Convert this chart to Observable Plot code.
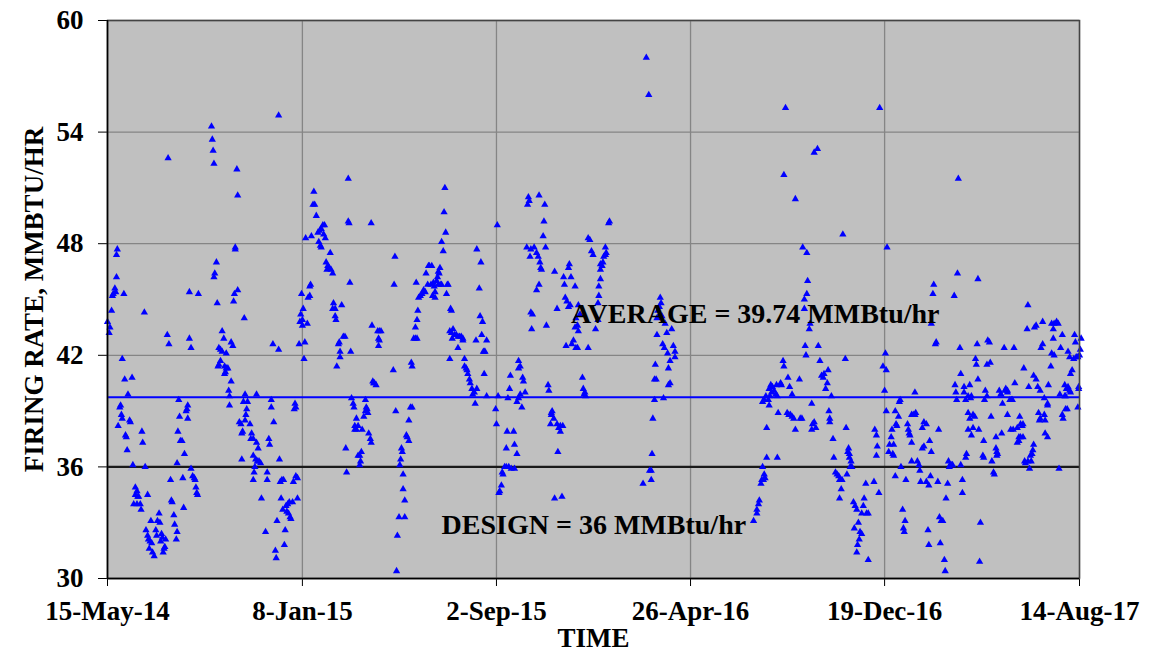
<!DOCTYPE html>
<html><head><meta charset="utf-8">
<script src="https://cdn.jsdelivr.net/npm/d3@7"></script>
<script src="https://cdn.jsdelivr.net/npm/@observablehq/plot@0.6"></script>
<style>html,body{margin:0;padding:0;background:#fff;}</style>
</head><body><div id="chart"></div>
<script>
const startDate = "2014-05-15";
const endDate = "2017-08-14";
const xTickDates = ["2014-05-15","2015-01-08","2015-09-02","2016-04-26","2016-12-19","2017-08-14"];
const xTickLabels = ["15-May-14","8-Jan-15","2-Sep-15","26-Apr-16","19-Dec-16","14-Aug-17"];
const yTicks = [30,36,42,48,54,60];
const averageRate = 39.74;
const designRate = 36;
const averageLabel = "AVERAGE = 39.74 MMBtu/hr";
const designLabel = "DESIGN = 36 MMBtu/hr";
const averageLabelAt = [566, 43.76];   // [days after start, MMBtu/hr]
const designLabelAt = [408, 32.37];
const xTitle = "TIME";
const yTitle = "FIRING RATE, MMBTU/HR";

// observations: [days after 15-May-14, firing rate MMBtu/hr]
const obs2014 = [[0,43.8],[3,43.5],[2,43.2],[5,44.4],[6,45.2],[7,45.3],[9,45.6],[10,45.4],[11,46.2],[11,47.4],[12,47.7],[20,45.3],[18,41.8],[21,40.7],[30,40.8],[25,39.9],[15,39.2],[16,39.3],[17,38.8],[18,38.6],[13,38.2],[27,38.5],[28,38.4],[22,37.7],[23,37.6],[24,36.9],[31,36.1],[46,36.0],[42,37.9],[43,37.3],[45,44.3],[34,34.9],[36,34.7],[34,34.5],[37,34.4],[38,34.4],[32,34.0],[36,34.0],[40,34.0],[41,33.7],[49,34.5],[47,32.6],[49,32.3],[50,32.1],[52,32.0],[54,31.9],[51,31.6],[55,31.4],[57,31.2],[53,33.1],[59,32.6],[60,32.3],[61,33.1],[63,33.5],[64,33.0],[65,32.0],[66,32.4],[67,32.2],[68,31.4],[69,31.6],[71,32.1],[70,31.7],[74,52.6],[73,43.1],[75,42.6],[77,35.3],[78,34.2],[79,34.1],[81,33.4],[82,32.9],[85,32.5],[84,32.1],[85,36.2],[86,37.9],[88,38.7],[89,37.4],[91,37.4],[94,36.7],[87,39.6],[92,35.4],[93,33.8],[96,39.0],[97,39.1],[98,39.3],[98,38.6],[100,45.4],[111,45.3],[100,42.9],[102,42.4],[102,35.9],[104,35.5],[106,35.4],[107,35.3],[108,34.9],[109,34.6],[110,34.5],[127,54.3],[128,53.6],[129,53.0],[130,52.3],[133,47.0],[131,46.4],[130,46.2],[134,44.8],[140,43.3],[142,42.9],[136,42.4],[138,42.3],[140,42.2],[145,42.1],[136,41.5],[135,41.4],[138,41.7],[143,41.4],[145,41.3],[147,41.3],[143,41.0],[144,41.1],[151,40.6],[148,40.1],[149,39.8],[149,39.3],[151,42.7],[153,42.5],[155,45.3],[154,44.9],[159,45.5],[156,47.7],[156,47.8],[158,52.0],[159,50.6],[167,44.0],[161,38.4],[163,38.3],[164,37.8],[165,37.9],[164,36.4],[166,39.5],[168,39.9],[171,39.5],[170,39.1],[169,38.8],[168,38.5],[174,38.3],[176,37.8],[175,37.5],[178,37.5],[182,37.3],[184,37.0],[178,36.6],[181,36.4],[183,36.3],[185,36.3],[187,36.2],[180,36.0],[179,35.7],[178,35.3],[182,39.9],[188,34.3],[193,32.5]];
const obs2015a = [[209,54.9],[202,42.6],[209,42.3],[200,39.6],[200,39.2],[203,38.4],[197,37.5],[198,37.2],[210,36.4],[195,35.7],[195,35.3],[211,35.2],[213,35.3],[215,35.3],[227,35.2],[230,35.5],[232,35.4],[229,39.4],[230,39.2],[228,39.1],[212,34.3],[214,33.7],[218,33.9],[220,34.0],[222,34.1],[226,34.1],[219,33.6],[221,33.5],[223,33.3],[224,33.2],[232,34.3],[207,33.1],[217,32.6],[216,31.8],[205,31.5],[206,31.1],[240,41.8],[234,42.6],[241,42.7],[238,43.6],[235,43.8],[244,43.7],[238,43.9],[236,44.2],[239,44.5],[237,45.3],[245,45.1],[247,45.2],[247,45.7],[248,45.8],[242,48.3],[249,48.4],[252,50.8],[253,50.1],[251,50.1],[255,49.5],[257,48.6],[259,48.7],[261,48.8],[263,49.0],[265,49.0],[264,48.5],[266,48.3],[258,48.1],[260,47.9],[261,47.8],[272,47.5],[267,47.0],[269,46.8],[271,46.7],[268,46.6],[273,46.6],[275,46.4],[296,45.9],[276,44.8],[278,44.5],[275,44.5],[279,43.9],[278,44.1],[286,44.7],[288,43.0],[290,43.0],[283,42.7],[282,42.6],[284,42.2],[284,41.9],[280,41.4],[297,42.2],[294,51.5],[294,49.2],[295,49.1],[322,49.1],[298,39.7],[300,39.4],[301,39.2],[291,37.0],[292,35.7],[304,38.6],[302,38.2],[304,38.0],[302,38.0],[311,38.0],[306,38.2],[315,39.6],[316,39.2],[315,39.0],[318,38.9],[313,38.7],[317,39.1],[319,37.8],[321,37.5],[322,37.3],[310,36.8],[308,36.6],[306,36.6],[309,36.3],[308,36.1],[323,43.6],[330,43.3],[332,43.3],[334,43.3],[331,42.9],[332,42.8],[331,42.5],[324,40.6],[326,40.5],[328,40.4],[325,40.5],[351,47.3],[350,45.8],[349,41.2],[352,39.0],[368,38.5],[365,37.7],[366,37.6],[368,37.4],[359,37.0],[360,36.8],[358,36.4],[357,36.1],[361,35.6],[361,34.8],[363,34.2],[356,33.3],[363,33.3],[354,32.3],[353,30.4],[370,39.2],[372,39.2],[371,41.6],[372,41.4],[374,42.9],[376,42.9],[378,42.9],[376,43.5],[378,43.9],[379,44.4],[377,45.9],[380,45.1],[382,45.2],[384,45.3],[386,45.5],[388,45.4],[389,46.4],[391,45.8],[392,46.8],[393,46.8],[395,45.8]];
const obs2015b = [[396,46.8],[398,45.9],[399,45.7],[400,45.4],[400,45.1],[397,45.2],[402,46.0],[403,46.2],[404,46.5],[405,46.4],[406,46.7],[407,45.8],[404,45.8],[408,45.8],[412,51.0],[411,49.7],[413,48.6],[408,48.1],[410,47.6],[415,45.8],[416,45.8],[414,45.3],[419,44.5],[420,44.4],[418,43.3],[420,43.2],[422,43.4],[424,43.1],[421,42.9],[426,43.1],[428,43.0],[430,43.0],[432,43.0],[434,42.9],[428,42.4],[434,42.8],[418,41.8],[436,41.8],[436,41.4],[438,41.3],[439,41.2],[440,41.0],[442,40.7],[443,40.5],[445,40.2],[446,39.9],[448,40.0],[451,40.2],[449,39.4],[463,39.8],[477,39.8],[451,47.7],[456,47.0],[454,45.6],[455,44.1],[458,43.8],[457,43.1],[450,42.8],[463,42.8],[460,42.2],[459,42.2],[461,42.2],[460,41.0],[476,49.0],[474,39.1],[475,38.3],[488,37.9],[496,37.9],[487,37.0],[497,37.2],[500,36.7],[485,36.0],[487,36.0],[490,36.0],[493,35.9],[497,35.9],[482,35.7],[483,35.6],[481,35.0],[479,34.7],[478,34.6],[492,40.9],[491,40.2],[489,39.7],[500,39.5],[502,39.7],[504,39.9],[506,39.2],[502,41.3],[502,41.7],[504,41.4],[507,40.8],[508,40.6],[510,40.0],[514,50.5],[515,50.3],[513,50.1],[527,50.6],[534,50.1],[533,49.2],[532,48.4],[535,47.8],[512,47.8],[517,47.7],[521,47.8],[516,47.3],[524,47.5],[526,47.3],[528,47.0],[529,46.7],[530,46.6],[527,45.8],[524,45.5],[517,44.3],[519,44.2],[518,43.4],[536,43.6],[546,46.5],[549,44.5],[538,40.4],[539,40.1],[543,39.0],[542,38.8],[545,38.6],[542,38.9],[541,38.3],[549,38.3],[551,38.1],[553,38.2],[556,38.2],[553,37.9],[550,36.8],[546,34.3],[555,34.4],[557,46.2],[564,46.9],[563,46.7],[566,46.2],[558,45.8],[561,44.9],[559,45.1],[563,44.6],[565,44.7],[571,45.7],[575,44.7],[577,44.2],[572,44.0],[574,43.6],[571,43.5],[575,43.3],[560,42.5],[567,42.6],[569,42.8],[572,42.4],[574,42.4],[587,42.4],[596,43.4],[602,46.9],[600,45.7],[600,45.2],[599,44.8],[587,48.3],[589,48.2],[591,47.6],[593,47.4],[580,40.8],[581,40.2],[583,40.0],[584,39.8],[582,39.9]];
const obs2016a = [[602,46.1],[602,46.6],[599,43.9],[604,46.8],[605,47.0],[606,47.3],[608,47.4],[609,47.5],[608,47.8],[612,49.1],[613,49.2],[658,58.0],[661,56.0],[675,45.1],[676,44.8],[674,44.6],[672,44.4],[671,44.0],[673,44.1],[677,44.1],[681,43.7],[671,43.1],[683,43.2],[689,43.4],[678,42.6],[680,42.4],[684,42.1],[691,42.5],[693,42.2],[693,41.9],[687,41.7],[669,41.5],[685,41.3],[668,40.7],[670,40.7],[687,40.5],[685,40.4],[679,39.7],[668,39.6],[666,38.6],[665,36.7],[662,35.8],[664,35.8],[664,35.3],[654,35.1],[789,33.1],[793,33.5],[793,33.7],[795,34.0],[796,34.2],[798,35.1],[799,35.3]];
const obs2016b = [[828,55.3],[863,52.9],[867,53.1],[826,51.7],[840,50.4],[898,48.5],[943,55.3],[849,47.8],[854,47.5],[855,46.0],[854,45.3],[851,45.0],[851,44.5],[858,43.7],[857,43.4],[852,42.5],[853,42.0],[868,42.5],[825,41.7],[826,41.4],[822,40.5],[823,40.4],[831,40.8],[833,40.3],[836,39.9],[845,40.7],[808,40.2],[810,40.4],[812,40.3],[814,40.1],[816,39.9],[811,40.0],[809,39.8],[807,39.6],[817,40.4],[818,39.8],[808,39.3],[804,39.8],[802,39.6],[800,39.5],[819,38.9],[830,38.9],[832,38.8],[834,38.8],[836,38.7],[838,38.6],[840,38.0],[846,38.6],[848,38.6],[860,39.4],[861,38.3],[860,38.0],[863,38.4],[865,38.1],[805,38.1],[805,36.5],[818,36.5],[800,36.0],[802,35.6],[803,35.4],[801,35.3],[870,41.7],[872,40.9],[874,40.8],[875,41.0],[877,40.2],[879,40.5],[880,41.2],[881,39.0],[882,38.6],[884,39.8],[882,38.4],[886,37.5],[887,36.5],[889,35.7],[891,35.6],[893,35.5],[894,35.3],[897,35.3],[896,34.8],[894,34.3],[903,35.6],[901,41.8],[902,38.1],[905,37.0],[906,36.7],[906,36.5],[908,36.3],[907,36.0],[909,36.0],[904,36.8],[911,34.1],[913,33.9],[915,33.7],[921,33.5],[923,33.9],[924,34.3],[926,35.1],[927,33.5],[929,33.5],[936,35.2],[942,34.6],[912,32.7],[917,33.0],[919,32.5],[921,32.4],[918,32.1],[916,31.8],[915,31.4],[929,31.0],[937,38.0],[939,37.7],[940,37.1],[939,36.6],[949,40.1],[951,39.0],[947,41.4],[950,42.1],[951,41.2],[952,47.8],[954,36.8],[955,37.2],[957,37.6],[959,36.7],[960,36.6],[958,38.0],[960,37.2],[962,39.0],[963,38.3],[964,38.2],[966,38.7],[967,39.5],[968,39.6],[962,35.5],[969,36.0],[975,35.3],[971,33.7],[974,33.1],[972,32.7],[973,32.5],[977,38.3],[978,38.0],[979,37.8],[980,37.7],[982,37.3],[982,38.8],[984,38.8],[986,38.8],[987,38.9],[986,40.0],[995,38.1],[997,38.4],[1000,38.3],[995,37.0],[997,37.1],[982,36.3],[989,36.3],[991,36.1],[992,35.8],[993,35.2],[1000,35.2]];
const obs2017 = [[1039,51.5],[1038,46.4],[1063,46.1],[1034,45.2],[1009,45.8],[1008,45.3],[1006,43.7],[1011,42.6],[1012,42.7],[1041,42.4],[1124,44.7],[1123,43.4],[1132,43.5],[1134,43.6],[1142,43.8],[1153,43.7],[1156,43.7],[1159,43.8],[1161,43.7],[1155,43.4],[1166,43.1],[1181,43.1],[1155,42.9],[1140,42.4],[1142,42.6],[1164,42.4],[1173,42.2],[1189,42.9],[1182,42.7],[1062,42.6],[1075,42.8],[1077,42.7],[1095,42.4],[1107,42.4],[1060,41.8],[1061,41.5],[1074,41.5],[1078,41.6],[1063,40.7],[1042,41.0],[1119,41.3],[1131,40.9],[1134,40.7],[1152,41.4],[1153,42.1],[1156,42.0],[1175,41.9],[1176,41.0],[1178,41.2],[1180,41.8],[1183,41.9],[1185,41.9],[1187,42.0],[1188,42.3],[1186,40.2],[1035,40.4],[1036,40.0],[1037,39.6],[1046,40.3],[1048,39.6],[1046,40.0],[1053,40.4],[1051,39.8],[1055,39.8],[1054,39.7],[1072,40.1],[1071,39.6],[1074,39.8],[1089,40.1],[1091,39.9],[1091,39.9],[1096,40.1],[1097,40.2],[1099,40.1],[1099,40.0],[1102,39.6],[1104,39.6],[1105,39.6],[1108,40.5],[1093,39.4],[1125,40.3],[1136,40.3],[1139,40.1],[1144,39.7],[1148,39.4],[1148,39.3],[1149,40.4],[1163,39.9],[1169,40.4],[1171,40.2],[1173,40.3],[1175,40.1],[1176,40.0],[1170,39.8],[1169,39.8],[1172,39.1],[1185,39.2],[1186,40.3],[1051,38.9],[1053,38.6],[1057,38.8],[1059,38.7],[1051,38.0],[1057,38.1],[1055,37.7],[1064,38.0],[1070,37.4],[1079,38.7],[1085,37.6],[1092,37.8],[1099,38.8],[1103,38.0],[1106,38.0],[1111,38.1],[1114,38.7],[1115,38.3],[1117,38.2],[1118,38.3],[1113,37.6],[1115,37.6],[1118,37.6],[1137,38.9],[1139,38.6],[1144,38.8],[1145,38.5],[1138,38.5],[1145,37.8],[1148,37.6],[1166,38.8],[1167,38.6],[1170,39.1],[1111,37.3],[1113,37.4],[1131,37.2],[1130,36.9],[1129,36.7],[1127,36.6],[1128,36.3],[1124,36.3],[1121,36.2],[1126,35.9],[1120,36.3],[1082,35.7],[1083,35.6],[1080,36.3],[1086,36.8],[1085,37.0],[1087,36.7],[1086,36.6],[1069,36.6],[1070,36.5],[1049,36.7],[1048,36.5],[1042,36.1],[1027,36.3],[1029,36.1],[1031,36.1],[1032,36.1],[1028,36.0],[1162,35.9],[1015,38.0],[1004,37.4],[1006,36.8],[1005,35.5],[1003,35.0],[1014,35.2],[1026,35.1],[1044,35.3],[1044,34.6],[1024,34.3],[1016,33.3],[1018,33.1],[1020,33.1],[1066,33.0],[1017,31.9],[1022,31.0],[1023,30.4],[1065,30.9],[1002,32.6],[1003,31.8]];

const parse = d3.utcParse("%Y-%m-%d");
const t0 = parse(startDate);
const toDate = d => new Date(+t0 + d * 864e5);
const points = [obs2014, obs2015a, obs2015b, obs2016a, obs2016b, obs2017].flat()
  .map(([d, v]) => ({date: toDate(d), rate: v}));
const tickDates = xTickDates.map(parse);
const labelByTime = new Map(tickDates.map((d, i) => [+d, xTickLabels[i]]));
const notes = [
  {date: toDate(averageLabelAt[0]), rate: averageLabelAt[1], text: averageLabel},
  {date: toDate(designLabelAt[0]), rate: designLabelAt[1], text: designLabel}
];

const chart = Plot.plot({
  width: 1160, height: 652,
  marginLeft: 107, marginRight: 81, marginTop: 20, marginBottom: 74,
  style: {fontFamily: "'Liberation Serif','Times New Roman',serif", fontWeight: "bold", fontSize: "27px", color: "#000", background: "#fff", overflow: "visible"},
  x: {type: "utc", domain: [parse(startDate), parse(endDate)]},
  y: {domain: [30, 60]},
  marks: [
    Plot.frame({fill: "#c0c0c0", stroke: null}),
    Plot.ruleY(yTicks, {stroke: "#858585", strokeWidth: 1.3}),
    Plot.ruleX(tickDates, {stroke: "#858585", strokeWidth: 1.3}),
    Plot.ruleY([averageRate], {stroke: "#0000ff", strokeWidth: 2}),
    Plot.ruleY([designRate], {stroke: "#1a1a1a", strokeWidth: 2.2}),
    Plot.dot(points, {x: "date", y: "rate", symbol: "triangle", r: 2.7, fill: "#0000ff", stroke: null}),
    Plot.text(notes, {x: "date", y: "rate", text: "text", textAnchor: "start", lineAnchor: "bottom", fontSize: 28, fill: "#000"}),
    Plot.axisX({ticks: tickDates, tickFormat: d => labelByTime.get(+d), tickSize: 8, tickPadding: 14, label: null}),
    Plot.axisY({ticks: yTicks, tickSize: 9, tickPadding: 15, label: null}),
    Plot.frame({stroke: "#444", strokeWidth: 1.5}),
    Plot.ruleX([parse(startDate)], {stroke: "#000", strokeWidth: 1.5}),
    Plot.ruleY([30], {stroke: "#000", strokeWidth: 1.5}),
    Plot.text([xTitle], {frameAnchor: "bottom", dy: 60, text: d => d, textAnchor: "middle", lineAnchor: "middle", fontSize: 27}),
    Plot.text([yTitle], {frameAnchor: "left", dx: -73, rotate: -90, text: d => d, textAnchor: "middle", lineAnchor: "middle", fontSize: 27})
  ]
});
document.getElementById("chart").append(chart);
</script>
</body></html>
